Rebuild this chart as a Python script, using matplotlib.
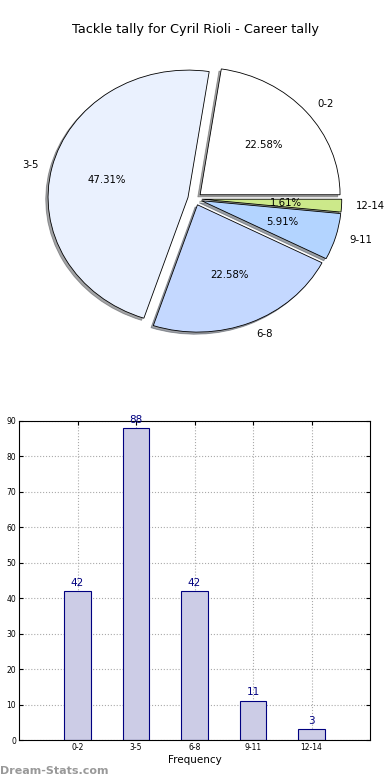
import matplotlib
matplotlib.use("Agg")
import matplotlib.pyplot as plt
import numpy as np

# tackle tally buckets and counts
categories = ["0-2", "3-5", "6-8", "9-11", "12-14"]
counts = [42, 88, 42, 11, 3]
pie_colors = ["#FFFFFF", "#EAF1FE", "#C4D8FF", "#B3D4FF", "#CCE98A"]
title = "Tackle tally for Cyril Rioli - Career tally"

fig = plt.figure(figsize=(3.9, 7.8), dpi=100)
fig.text(0.5, 1 - 30 / 780, title, ha="center", va="center", fontsize=9.3)

# pie chart
ax1 = fig.add_axes([0.051, 0.541, 0.897, 0.408])
wedges, texts, autotexts = ax1.pie(
    counts, labels=categories, colors=pie_colors, autopct="%.2f%%",
    explode=[0.05] * len(counts), shadow={"ox": -0.012, "oy": -0.012, "shade": 0.7},
    startangle=0,
    wedgeprops=dict(edgecolor="black", linewidth=0.6),
    textprops=dict(fontsize=7.3))
ax1.set_aspect("auto")
ax1.set_xlim(-1.25, 1.25)
ax1.set_ylim(-1.25, 1.25)

# bar chart
ax2 = fig.add_axes([19 / 390, 40 / 780, 351 / 390, 319 / 780])
x = np.arange(len(categories))
ax2.bar(x, counts, width=0.45, color="#CCCCE6", edgecolor="#000080", linewidth=0.8, zorder=2)
for xi, c in zip(x, counts):
    ax2.text(xi, c + 1, str(c), ha="center", va="bottom", color="#000080", fontsize=7.5)
ax2.set_xlim(-1, 5)
ax2.set_ylim(0, 90)
ax2.set_xticks(x)
ax2.set_xticklabels(categories, fontsize=5.5)
ax2.set_yticks(np.arange(0, 91, 10))
ax2.tick_params(axis="y", labelsize=5.5)
ax2.tick_params(direction="in", top=True, right=True, length=3, pad=2)
ax2.grid(True, linestyle=":", color="#AAAAAA", linewidth=0.8, zorder=0)
ax2.set_axisbelow(True)
ax2.set_xlabel("Frequency", fontsize=7.5, labelpad=2)

fig.text(0.0, 0.005, "Dream-Stats.com", fontsize=8, color="#999999", fontweight="bold", ha="left", va="bottom")

fig.savefig("out.png", dpi=100)
